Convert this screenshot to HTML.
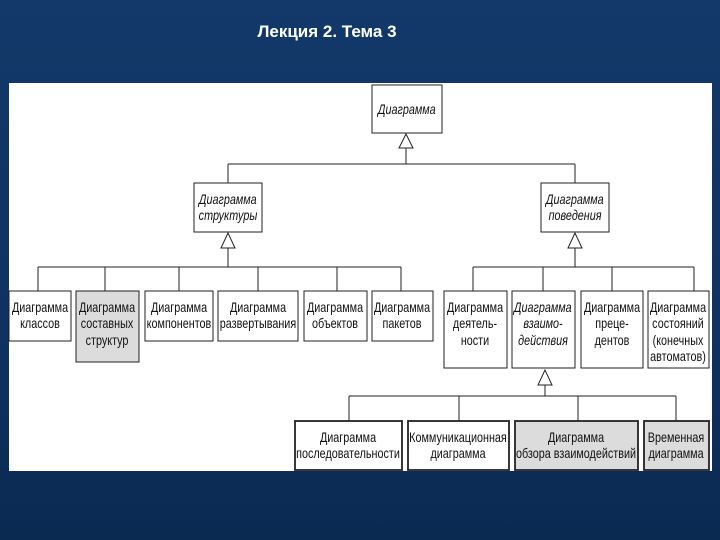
<!DOCTYPE html>
<html><head><meta charset="utf-8"><style>
html,body{margin:0;padding:0;}
body{width:720px;height:540px;overflow:hidden;background:linear-gradient(#12396a,#0f3261 60%,#0b2a52);}
svg{display:block}
text{font-family:"Liberation Sans",sans-serif;font-size:13.5px;fill:#111;text-anchor:middle;transform-box:fill-box;transform-origin:center;transform:scaleX(0.8)}
.i{font-style:italic}
text.t{transform:none}
</style></head><body>
<svg width="720" height="540" viewBox="0 0 720 540">
<text class="t" x="327" y="37" style="font-weight:bold;font-size:17px;fill:#fff">Лекция 2. Тема 3</text>
<rect x="9" y="83" width="703" height="388" fill="#fff"/>
<g stroke="#222" stroke-width="1" fill="none">
<path d="M406 148V164M228 164H575M228 164V183M575 164V183"/>
<path d="M228 248V267M38 267H401M38 267V291M105 267V291M179 267V291M258 267V291M337 267V291M401 267V291"/>
<path d="M575 248V267M473 267H694M473 267V291M543 267V291M612 267V291M694 267V291"/>
<path d="M545 385V396M349 396H676M349 396V421M459 396V421M578 396V421M676 396V421"/>
</g>
<g stroke="#222" stroke-width="1" fill="#fff">
<path d="M406 134L399 148H413Z"/>
<path d="M228 233L221 248H235Z"/>
<path d="M575 233L568 248H582Z"/>
<path d="M545 370L538 385H552Z"/>
<rect x="372" y="85" width="70" height="48"/>
<rect x="194" y="183" width="68" height="49"/>
<rect x="541" y="183" width="68" height="49"/>
<rect x="9" y="291" width="62" height="50"/>
<rect x="76" y="291" width="63" height="71" fill="#dcdcdc"/>
<rect x="145" y="291" width="68" height="50"/>
<rect x="218" y="291" width="80" height="50"/>
<rect x="304" y="291" width="63" height="50"/>
<rect x="372" y="291" width="61" height="50"/>
<rect x="444" y="291" width="63" height="77"/>
<rect x="512" y="291" width="63" height="77"/>
<rect x="581" y="291" width="62" height="77"/>
<rect x="648" y="291" width="61" height="77"/>
</g>
<g stroke="#222" stroke-width="1.8" fill="#fff">
<rect x="295" y="421" width="107" height="49"/>
<rect x="408" y="421" width="101" height="49"/>
<rect x="515" y="421" width="123" height="49" fill="#dcdcdc"/>
<rect x="644" y="421" width="65" height="49" fill="#dcdcdc"/>
</g>
<text class="i" x="407" y="114">Диаграмма</text>
<text class="i" x="228" y="204">Диаграмма</text><text class="i" x="228" y="220">структуры</text>
<text class="i" x="575" y="204">Диаграмма</text><text class="i" x="575" y="220">поведения</text>
<text x="40" y="312">Диаграмма</text><text x="40" y="328">классов</text>
<text x="107" y="312">Диаграмма</text><text x="107" y="328">составных</text><text x="107" y="345">структур</text>
<text x="179" y="312">Диаграмма</text><text x="179" y="328">компонентов</text>
<text x="258" y="312">Диаграмма</text><text x="258" y="328">развертывания</text>
<text x="335" y="312">Диаграмма</text><text x="335" y="328">объектов</text>
<text x="402" y="312">Диаграмма</text><text x="402" y="328">пакетов</text>
<text x="475" y="312">Диаграмма</text><text x="475" y="328">деятель-</text><text x="475" y="345">ности</text>
<text class="i" x="543" y="312">Диаграмма</text><text class="i" x="543" y="328">взаимо-</text><text class="i" x="543" y="345">действия</text>
<text x="612" y="312">Диаграмма</text><text x="612" y="328">преце-</text><text x="612" y="345">дентов</text>
<text x="678" y="312">Диаграмма</text><text x="678" y="328">состояний</text><text x="678" y="345">(конечных</text><text x="678" y="361">автоматов)</text>
<text x="348" y="442">Диаграмма</text><text x="348" y="458">последовательности</text>
<text x="458" y="442">Коммуникационная</text><text x="458" y="458">диаграмма</text>
<text x="576" y="442">Диаграмма</text><text x="576" y="458">обзора взаимодействий</text>
<text x="676" y="442">Временная</text><text x="676" y="458">диаграмма</text>
</svg>
</body></html>
